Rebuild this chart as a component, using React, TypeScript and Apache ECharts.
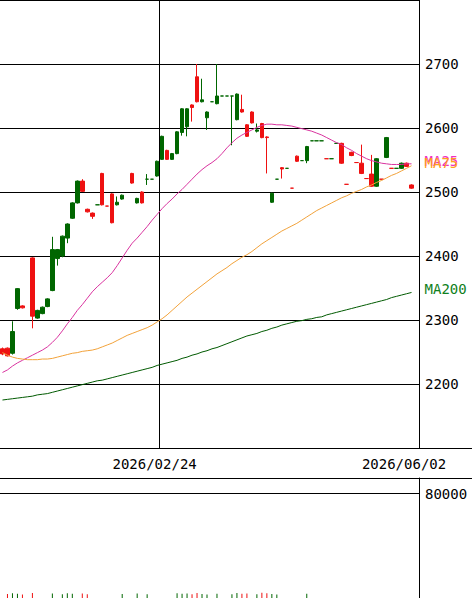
import React, { useEffect, useRef } from "react";
import * as echarts from "echarts";

// ---- categories / ticks ----
const SLOT_COUNT = 84;
const DATE_TICK_SLOTS = [31, 81];
const DATE_TICK_LABELS = ["2026/02/24", "2026/06/02"];
const PERIOD_LINE_SLOT = 32;
const PRICE_TICKS = [2200, 2300, 2400, 2500, 2600, 2700];
const VOLUME_TICK = 80000;

// ---- candles (null = no trade) ----
const OPEN = [
  2255, 2256, 2248, 2318, 2322, null, 2397, 2303, 2310, 2321,
  2346, 2396, 2400, 2428, 2459, 2483, 2517, 2473, 2467, 2480,
  2529, 2478, 2497, 2480, 2489, null, 2529, 2483, 2500, 2520,
  2520, 2525, 2551, 2565, 2551, 2560, 2593, 2602, 2636, 2680,
  2641, 2616, 2641, 2638, 2650, 2650, 2650, 2613, 2629, 2605,
  2625, 2595, 2607, 2586, 2484, 2520, 2538, 2537, 2506, 2556,
  2549, 2549, 2580, 2580, 2580, 2552, 2552, 2576, 2576, 2512,
  2562, 2546, 2545, 2521, 2528, 2509, 2520, 2554, 2537, 2537,
  2537, 2545, 2511, null,
];
const CLOSE = [
  2247, 2244, 2282, 2349, 2319, null, 2306, 2315, 2320, 2333,
  2410, 2410, 2431, 2450, 2483, 2517, 2501, 2469, 2462, 2480,
  2480, 2478, 2452, 2484, 2495, null, 2514, 2490, 2483, 2520,
  2520, 2548, 2587, 2551, 2560, 2594, 2630, 2630, 2632, 2641,
  2644, 2625, 2641, 2650, 2650, 2650, 2650, 2653, 2625, 2587,
  2608, 2597, 2585, 2585, 2498, 2520, 2536, 2537, 2506, 2548,
  2549, 2571, 2580, 2580, 2580, 2552, 2552, 2576, 2545, 2512,
  2557, 2546, 2529, 2521, 2509, 2552, 2520, 2585, 2537, 2537,
  2545, 2540, 2506, null,
];
const LOW = [
  2245, 2243, 2246, 2316, 2318, null, 2287, 2302, 2309, 2320,
  2345, 2385, 2398, 2420, 2458, 2482, 2500, 2468, 2458, 2480,
  2479, 2478, 2451, 2479, 2488, null, 2513, 2482, 2482, 2511,
  2520, 2524, 2550, 2550, 2550, 2559, 2588, 2587, 2610, 2640,
  2640, 2597, 2641, 2637, 2650, 2650, 2573, 2612, 2624, 2586,
  2607, 2593, 2584, 2529, 2483, 2520, 2521, 2537, 2506, 2547,
  2549, 2545, 2580, 2580, 2580, 2552, 2552, 2576, 2544, 2512,
  2556, 2546, 2528, 2521, 2508, 2508, 2520, 2553, 2537, 2537,
  2536, 2539, 2505, null,
];
const HIGH = [
  2257, 2257, 2298, 2350, 2323, null, 2398, 2316, 2321, 2334,
  2430, 2411, 2432, 2451, 2484, 2518, 2520, 2474, 2468, 2480,
  2530, 2478, 2498, 2493, 2496, null, 2530, 2491, 2501, 2528,
  2520, 2549, 2588, 2566, 2561, 2595, 2631, 2631, 2637, 2700,
  2677, 2626, 2641, 2700, 2650, 2650, 2650, 2654, 2652, 2606,
  2626, 2607, 2608, 2587, 2499, 2520, 2539, 2537, 2506, 2557,
  2549, 2572, 2580, 2580, 2580, 2552, 2552, 2576, 2577, 2512,
  2563, 2546, 2574, 2521, 2558, 2553, 2520, 2586, 2537, 2537,
  2546, 2546, 2512, null,
];

// ---- moving averages ----
const MA25 = [
  2218, 2222, 2228, 2233, 2237, 2241, 2245, 2249, 2253, 2258,
  2265, 2273, 2283, 2294, 2304, 2315, 2324, 2334, 2344, 2352,
  2359, 2366, 2374, 2385, 2397, 2409, 2420, 2428, 2437, 2446,
  2456, 2465, 2474, 2482, 2489, 2497, 2504, 2512, 2520, 2528,
  2535, 2541, 2546, 2552, 2560, 2569, 2577, 2584, 2589, 2593,
  2597, 2601, 2604, 2606, 2606, 2605, 2605, 2604, 2603, 2601,
  2599, 2597, 2595, 2592, 2589, 2585, 2581, 2577, 2574, 2569,
  2565, 2560, 2556, 2552, 2549, 2547, 2545, 2544, 2543, 2543,
  2543, 2544, 2544, null,
];
const MA75 = [
  2249, 2245, 2242, 2240, 2239, 2238, 2238, 2238, 2239, 2239,
  2240, 2242, 2244, 2246, 2248, 2249, 2251, 2252, 2253, 2255,
  2258, 2261, 2264, 2268, 2272, 2276, 2279, 2282, 2285, 2288,
  2292, 2297, 2302, 2308, 2315, 2322, 2329, 2336, 2342, 2348,
  2354, 2360, 2366, 2372, 2377, 2382, 2388, 2393, 2398, 2402,
  2407, 2413, 2419, 2424, 2429, 2434, 2439, 2443, 2447, 2451,
  2456, 2461, 2466, 2471, 2475, 2479, 2483, 2487, 2491, 2494,
  2498, 2501, 2504, 2508, 2511, 2515, 2518, 2522, 2526, 2529,
  2533, 2537, 2541, null,
];
const MA200 = [
  2175, 2176, 2177, 2178, 2179, 2180, 2181, 2183, 2184, 2185,
  2187, 2189, 2191, 2193, 2195, 2197, 2199, 2201, 2203, 2205,
  2206, 2208, 2210, 2212, 2214, 2216, 2218, 2220, 2222, 2224,
  2226, 2229, 2231, 2233, 2235, 2237, 2240, 2242, 2245, 2247,
  2250, 2252, 2255, 2257, 2260, 2263, 2266, 2269, 2272, 2275,
  2277, 2279, 2282, 2284, 2287, 2289, 2292, 2294, 2296, 2298,
  2299, 2301, 2302, 2304, 2305, 2308, 2310, 2312, 2314, 2316,
  2318, 2320, 2322, 2324, 2326, 2328, 2330, 2332, 2335, 2337,
  2339, 2341, 2343, null,
];

// ---- volume (very thin trading) ----
const VOLUME = [
  0, 3100, 3700, 3200, 2600, 0, 3900, 0, 0, 0,
  3400, 0, 2900, 3600, 3200, 0, 3500, 2900, 0, 0,
  0, 0, 0, 0, 3000, 0, 0, 3400, 0, 2800,
  0, 0, 0, 0, 0, 3700, 3200, 3500, 2900, 3900,
  3100, 2700, 0, 3300, 0, 0, 2900, 3800, 3200, 3400,
  0, 2800, 4000, 3600, 3000, 2700, 0, 0, 0, 0,
  0, 3200, 0, 0, 0, 0, 0, 0, 0, 0,
  0, 0, 0, 0, 0, 0, 0, 0, 0, 0,
  0, 0, 0, 0,
];

const UP = "#006600";
const DOWN = "#ee1111";
const FONT = "DejaVu Sans Mono";
const PAGE_W = 472;
const PAGE_H = 598;
const PLOT_W = 419;
// one empty slot kept just left of the visible page, so the period line can sit on a band edge
const PAD = 1;
const BAND = PLOT_W / SLOT_COUNT;
const SHIFT = BAND * PAD;

export default function App() {
  const ref = useRef<HTMLDivElement>(null);

  useEffect(() => {
    if (!ref.current) return;
    const chart = echarts.init(ref.current, undefined, { renderer: "svg" });

    const total = SLOT_COUNT + PAD;
    const categories = Array.from({ length: total }, (_, j) => {
      const i = j - PAD;
      const t = DATE_TICK_SLOTS.indexOf(i);
      return t >= 0 ? DATE_TICK_LABELS[t] : `#${i}`;
    });
    const pad = (arr: any[], fill: any) => [...Array(PAD).fill(fill), ...arr];

    const candles = pad(
      OPEN.map((o, i) => (o == null ? "-" : [o, CLOSE[i], LOW[i], HIGH[i]])),
      "-"
    );

    const volumeItems = pad(
      VOLUME.map((v, i) => {
        const o = OPEN[i];
        const c = CLOSE[i];
        let up = true;
        if (o != null && c != null) {
          if (c < o) up = false;
          else if (c === o && i > 0 && CLOSE[i - 1] != null && c < (CLOSE[i - 1] as number)) up = false;
        }
        return { value: v, itemStyle: { color: up ? UP : DOWN } };
      }),
      { value: 0 }
    );

    const maSeries = (name: string, data: (number | null)[], line: string, label: string) => ({
      type: "line",
      name,
      xAxisIndex: 0,
      yAxisIndex: 0,
      data: pad(data.map((v) => (v == null ? "-" : v)), "-"),
      symbol: "none",
      lineStyle: { color: line, width: 1 },
      silent: true,
      z: 3,
      endLabel: {
        show: true,
        formatter: name,
        color: label,
        fontFamily: FONT,
        fontSize: 14,
        distance: 13,
        offset: [0, -3],
      },
    });

    chart.setOption({
      animation: false,
      backgroundColor: "#ffffff",
      textStyle: { fontFamily: FONT },
      grid: [
        { left: 0, right: PAGE_W - PLOT_W, top: -2, bottom: 150 },
        { left: 0, right: PAGE_W - PLOT_W, top: 478, bottom: -2 },
      ],
      xAxis: [
        {
          type: "category",
          gridIndex: 0,
          data: categories,
          boundaryGap: true,
          axisLine: { show: false },
          axisTick: { show: false },
          axisLabel: {
            interval: (idx: number) => DATE_TICK_SLOTS.includes(idx - PAD),
            color: "#000",
            fontFamily: FONT,
            fontSize: 14,
            margin: 9,
            padding: [0, 5, 0, 0],
          },
          splitLine: {
            show: true,
            interval: (idx: number) => idx === 0 || idx === PERIOD_LINE_SLOT + PAD,
            lineStyle: { color: "#000", width: 1 },
          },
        },
        {
          type: "category",
          gridIndex: 1,
          data: categories,
          boundaryGap: true,
          axisLine: { show: false },
          axisTick: { show: false },
          axisLabel: { show: false },
          splitLine: { show: false },
        },
      ],
      yAxis: [
        {
          type: "value",
          gridIndex: 0,
          position: "right",
          min: 2100,
          max: 2800,
          interval: 100,
          axisLine: { show: true, lineStyle: { color: "#000", width: 1 } },
          axisTick: { show: false },
          axisLabel: {
            color: "#000",
            fontFamily: FONT,
            fontSize: 14,
            margin: 6,
            formatter: (v: number) => (PRICE_TICKS.includes(v) ? String(v) : ""),
          },
          splitLine: { show: true, lineStyle: { color: "#000", width: 1 } },
        },
        {
          type: "value",
          gridIndex: 1,
          position: "right",
          min: 0,
          max: 92000,
          interval: VOLUME_TICK,
          axisLine: { show: true, lineStyle: { color: "#000", width: 1 } },
          axisTick: { show: false },
          axisLabel: {
            color: "#000",
            fontFamily: FONT,
            fontSize: 14,
            margin: 6,
            formatter: (v: number) => (v === VOLUME_TICK ? String(v) : ""),
          },
          splitLine: { show: true, lineStyle: { color: "#000", width: 1 } },
        },
      ],
      graphic: [
        {
          type: "line",
          silent: true,
          shape: { x1: 0, y1: 448.5, x2: PAGE_W + SHIFT, y2: 448.5 },
          style: { stroke: "#000", lineWidth: 1 },
        },
        {
          type: "line",
          silent: true,
          shape: { x1: 0, y1: 478.5, x2: PAGE_W + SHIFT, y2: 478.5 },
          style: { stroke: "#000", lineWidth: 1 },
        },
      ],
      series: [
        {
          type: "candlestick",
          xAxisIndex: 0,
          yAxisIndex: 0,
          data: candles,
          barWidth: 4,
          silent: true,
          z: 2,
          itemStyle: {
            color: UP,
            color0: DOWN,
            borderColor: UP,
            borderColor0: DOWN,
            borderWidth: 1,
          },
        },
        maSeries("MA25", MA25, "#d9339f", "#f030c0"),
        maSeries("MA75", MA75, "#f2a23a", "#ffa020"),
        maSeries("MA200", MA200, "#005a00", "#108020"),
        {
          type: "bar",
          xAxisIndex: 1,
          yAxisIndex: 1,
          data: volumeItems,
          barWidth: 1,
          silent: true,
        },
      ],
    });

    return () => chart.dispose();
  }, []);

  return (
    <div style={{ position: "absolute", left: 0, top: 0, width: PAGE_W, height: PAGE_H, overflow: "hidden" }}>
      <div
        ref={ref}
        style={{ position: "absolute", left: -SHIFT, top: 0, width: PAGE_W + SHIFT, height: PAGE_H }}
      />
    </div>
  );
}
